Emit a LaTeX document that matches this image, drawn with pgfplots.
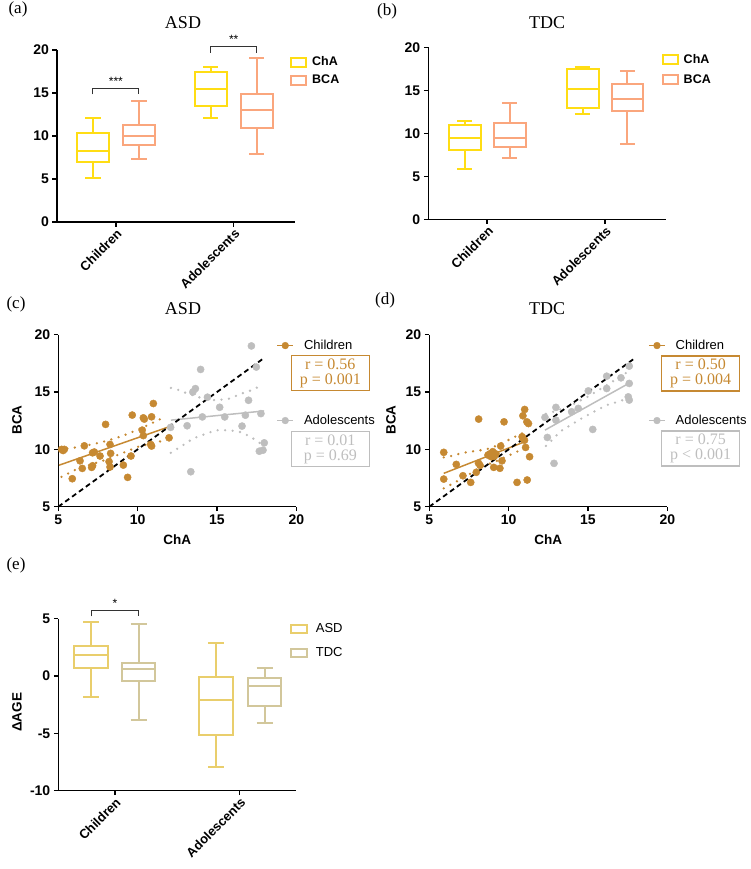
\documentclass[border=0pt]{standalone}
\usepackage{fontspec}
\setmainfont{Liberation Serif}
\setsansfont{Liberation Sans}
\usepackage{pgfplots}
\pgfplotsset{compat=1.18}
\usepgfplotslibrary{statistics}

\definecolor{cha}{RGB}{255,221,20}
\definecolor{bca}{RGB}{250,166,125}
\definecolor{chO}{RGB}{198,137,50}
\definecolor{adG}{RGB}{190,190,190}
\definecolor{asdE}{RGB}{233,206,108}
\definecolor{tdcE}{RGB}{210,199,155}

\pgfplotsset{
  gp/.style={
    scale only axis, width=238pt, height=172pt,
    axis x line*=bottom, axis y line*=left,
    axis line style={line width=1.5pt},
    every tick/.style={black, line width=1.5pt},
    tick align=outside, major tick length=4.5pt,
    ticklabel style={font=\fontsize{14}{14}\selectfont\sffamily\bfseries},
    label style={font=\fontsize{13.5}{14}\selectfont\sffamily\bfseries},
    clip=false,
  },
  boxax/.style={gp, xmin=0.5, xmax=2.52, xtick={1,2}, xticklabels={Children,Adolescents},
    xticklabel style={rotate=45, anchor=north east, inner sep=1pt, font=\fontsize{13}{13}\selectfont\sffamily\bfseries},
    boxplot/draw direction=y,
    legend cell align=left,
    legend style={draw=none, fill=none, inner sep=0pt, row sep=7pt, column sep=5pt,
      nodes={inner sep=0pt, text height=9pt, text depth=2pt}},
  },
  scax/.style={gp, xmin=5, xmax=20, ymin=5, ymax=20, xtick={5,10,15,20}, xticklabels={5,10,15,20},
    ytick={5,10,15,20}, yticklabels={5,10,15,20}, xlabel={ChA}, ylabel={BCA},
    xlabel style={at={(axis description cs:0.5,-0.194)}, anchor=center},
    legend cell align=left,
    legend style={draw=none, fill=none, inner sep=0pt, row sep=64pt, column sep=10pt,
      nodes={inner sep=0pt, text height=9pt, text depth=2pt},
      font=\fontsize{13}{13}\selectfont\sffamily},
  },
  bx/.style args={#1/#2/#3/#4/#5/#6}{solid, line width=2pt,
    boxplot/draw direction=y,
    boxplot prepared={lower whisker=#1, lower quartile=#2, median=#3,
      upper quartile=#4, upper whisker=#5, draw position=#6,
      box extend=0.27, whisker extend=0.13}},
  boxleg/.style={legend image code/.code={\draw[#1, line width=2pt] (0pt,-4.5pt) rectangle (15pt,4.5pt);}},
  boxlegE/.style={legend image code/.code={\draw[#1, line width=2pt] (0pt,-4pt) rectangle (16pt,4pt);}},
  dotleg/.style={legend image code/.code={\draw[#1, line width=1.5pt] (0pt,0pt) -- (16pt,0pt); \fill[#1] (8pt,0pt) circle (3.4pt);}},
  pts/.style={only marks, mark=*, mark size=3.6pt, mark options={draw=#1, fill=#1}},
  reg/.style={#1, line width=1.5pt, solid},
  ci/.style={#1, line width=2.6pt, line cap=round, dash pattern=on 0pt off 7.5pt},
  idl/.style={black, line width=1.8pt, dash pattern=on 5pt off 3.5pt},
}
\tikzset{rp/.style={draw=#1, text=#1, line width=1.2pt, minimum width=78pt, minimum height=35pt,
  inner sep=1pt, align=center, font=\fontsize{16}{15}\selectfont}}

\begin{document}
\begin{tikzpicture}
\path[use as bounding box] (0pt,0pt) rectangle (750pt,-869pt);

% titles and panel labels
\node[font=\fontsize{18}{18}\selectfont] at (183pt,-23pt) {ASD};
\node[font=\fontsize{18}{18}\selectfont] at (547pt,-23pt) {TDC};
\node[font=\fontsize{18}{18}\selectfont] at (183pt,-309pt) {ASD};
\node[font=\fontsize{18}{18}\selectfont] at (547pt,-309pt) {TDC};
\node[font=\fontsize{17}{17}\selectfont] at (18pt,-9pt) {(a)};
\node[font=\fontsize{17}{17}\selectfont] at (387pt,-11pt) {(b)};
\node[font=\fontsize{17}{17}\selectfont] at (16pt,-304pt) {(c)};
\node[font=\fontsize{17}{17}\selectfont] at (385pt,-300pt) {(d)};
\node[font=\fontsize{17}{17}\selectfont] at (16pt,-565pt) {(e)};

% ---------------- (a)
\begin{axis}[boxax, at={(57pt,-222pt)}, anchor=south west,
  ymin=0, ymax=20, ytick={0,5,10,15,20}, yticklabels={0,5,10,15,20},
  legend style={at={(axis description cs:0.979,0.962)}, anchor=north west,
    font=\fontsize{12.5}{13}\selectfont\sffamily\bfseries}]
\addlegendimage{boxleg=cha}\addlegendentry{ChA}
\addlegendimage{boxleg=bca}\addlegendentry{BCA}
\addplot[draw=cha, bx={5.17/7.0/8.27/10.4/12.04/0.805}] coordinates {};
\addplot[draw=bca, bx={7.38/8.93/9.98/11.26/14.06/1.195}] coordinates {};
\addplot[draw=cha, bx={12.1/13.5/15.42/17.48/18.06/1.805}] coordinates {};
\addplot[draw=bca, bx={7.96/10.95/13.0/14.83/19.03/2.195}] coordinates {};
\draw[line width=0.9pt, black!80] (axis cs:0.805,14.85) -- (axis cs:0.805,15.55) -- (axis cs:1.195,15.55) -- (axis cs:1.195,14.85);
\node[font=\fontsize{12}{12}\selectfont\sffamily] at (axis cs:1,16.35) {***};
\draw[line width=0.9pt, black!80] (axis cs:1.805,19.7) -- (axis cs:1.805,20.4) -- (axis cs:2.195,20.4) -- (axis cs:2.195,19.7);
\node[font=\fontsize{12}{12}\selectfont\sffamily] at (axis cs:2,21.2) {**};
\end{axis}

% ---------------- (b)
\begin{axis}[boxax, at={(428.3pt,-219.3pt)}, anchor=south west,
  ymin=0, ymax=20, ytick={0,5,10,15,20}, yticklabels={0,5,10,15,20},
  legend style={at={(axis description cs:0.980,0.961)}, anchor=north west, row sep=9pt,
    font=\fontsize{12.5}{13}\selectfont\sffamily\bfseries}]
\addlegendimage{boxleg=cha}\addlegendentry{ChA}
\addlegendimage{boxleg=bca}\addlegendentry{BCA}
\addplot[draw=cha, bx={5.83/8.07/9.5/11.0/11.39/0.81}] coordinates {};
\addplot[draw=bca, bx={7.07/8.46/9.5/11.16/13.47/1.19}] coordinates {};
\addplot[draw=cha, bx={12.24/12.93/15.13/17.45/17.72/1.81}] coordinates {};
\addplot[draw=bca, bx={8.73/12.59/13.98/15.68/17.22/2.19}] coordinates {};
\end{axis}

% ---------------- (c)
\begin{axis}[scax, at={(58.3pt,-506.7pt)}, anchor=south west,
  ylabel style={at={(axis description cs:-0.174,0.504)}, anchor=center},
  legend style={at={(axis description cs:0.916,0.970)}, anchor=north west}]
\addlegendimage{dotleg=chO}\addlegendentry{Children}
\addlegendimage{dotleg=adG}\addlegendentry{Adolescents}
\addplot[pts=chO] table[row sep=\\] {
x y\\
5.21 10.00\\ 5.38 10.00\\ 5.30 9.90\\ 5.88 7.44\\ 6.37 9.00\\ 6.51 8.34\\ 6.64 10.31\\
7.10 8.43\\ 7.16 8.57\\ 7.16 9.70\\ 7.27 9.77\\ 7.63 9.42\\ 7.98 12.18\\ 8.26 10.43\\
8.30 9.65\\ 8.20 8.93\\ 8.26 8.46\\ 9.10 8.63\\ 9.37 7.56\\ 9.58 9.42\\ 9.66 12.99\\
10.29 11.68\\ 10.36 12.75\\ 10.42 12.64\\ 10.36 11.20\\ 10.82 10.43\\ 10.88 10.29\\
10.88 12.84\\ 10.99 14.00\\ 11.98 11.01\\
};
\addplot[pts=adG] table[row sep=\\] {
x y\\
12.08 11.92\\ 13.12 12.06\\ 13.35 8.05\\ 13.48 15.00\\ 13.64 15.30\\ 13.97 16.97\\
14.08 12.83\\ 14.40 14.55\\ 15.17 13.67\\ 15.49 12.83\\ 16.58 12.03\\ 16.79 12.98\\
16.99 14.28\\ 17.17 19.02\\ 17.48 17.18\\ 17.77 13.12\\ 17.67 9.84\\ 17.90 9.93\\ 17.98 10.57\\
};
\addplot[reg=chO] coordinates {(5.05,8.62) (11.98,11.97)};
\addplot[ci=chO] coordinates {(5.1,10.0) (6,10.15) (7,10.4) (8,10.72) (9,11.15) (10,11.7) (11,12.35) (11.8,12.9)};
\addplot[ci=chO] coordinates {(5.2,7.6) (6.05,8.2) (7,8.65) (7.94,9.07) (8.99,9.65) (10.04,10.23) (10.88,10.52) (11.6,10.75)};
\addplot[reg=adG] coordinates {(12.1,12.55) (17.97,13.35)};
\addplot[ci=adG] coordinates {(12.1,15.36) (12.66,15.15) (13.14,14.86) (13.8,14.57) (14.44,14.34) (14.96,14.28) (15.8,14.43) (16.54,14.86) (17.27,15.2) (17.8,15.6)};
\addplot[ci=adG] coordinates {(12.09,9.7) (12.87,10.37) (13.5,10.95) (14.33,11.38) (14.96,11.67) (15.8,11.67) (16.43,11.53) (17.06,11.15) (17.59,10.66) (17.95,10.3)};
\addplot[idl] coordinates {(5,5) (18,18)};
\node[rp=chO] at (axis description cs:1.143,0.778) {r = 0.56\\p = 0.001};
\node[rp=adG] at (axis description cs:1.143,0.334) {r = 0.01\\p = 0.69};
\end{axis}

% ---------------- (d)
\begin{axis}[scax, at={(429.3pt,-506.7pt)}, anchor=south west,
  ylabel style={at={(axis description cs:-0.161,0.504)}, anchor=center},
  legend style={at={(axis description cs:0.919,0.970)}, anchor=north west}]
\addlegendimage{dotleg=chO}\addlegendentry{Children}
\addlegendimage{dotleg=adG}\addlegendentry{Adolescents}
\addplot[pts=chO] table[row sep=\\] {
x y\\
5.91 9.74\\ 5.91 7.41\\ 6.70 8.69\\ 7.12 7.70\\ 7.61 7.12\\ 7.96 8.00\\ 8.11 12.64\\
8.10 8.80\\ 8.20 8.60\\ 8.70 9.50\\ 8.80 9.60\\ 8.90 9.36\\ 9.00 9.80\\ 9.10 9.40\\
9.20 9.60\\ 8.95 9.65\\ 9.50 10.29\\ 9.58 9.00\\ 9.45 8.35\\ 9.06 8.43\\ 9.71 12.40\\
10.53 7.12\\ 10.90 10.96\\ 11.00 10.80\\ 10.85 11.10\\ 11.01 13.48\\ 10.90 12.93\\
11.15 12.40\\ 11.25 12.25\\ 11.07 10.17\\ 11.32 9.36\\ 11.17 7.33\\
};
\addplot[pts=adG] table[row sep=\\] {
x y\\
12.29 12.79\\ 12.98 13.66\\ 12.98 12.55\\ 12.44 11.04\\ 12.86 8.78\\ 13.97 13.28\\
14.39 13.57\\ 15.30 11.74\\ 15.02 15.10\\ 16.18 16.38\\ 16.18 15.31\\ 17.08 16.24\\
17.60 17.26\\ 17.60 15.75\\ 17.54 14.58\\ 17.60 14.30\\
};
\addplot[reg=chO] coordinates {(5.91,7.91) (11.01,10.66)};
\addplot[ci=chO] coordinates {(5.91,9.3) (6.39,9.42) (7.12,9.7) (7.86,9.85) (8.59,10.0) (9.2,10.3) (9.85,10.72) (10.48,11.15) (11.0,11.5)};
\addplot[ci=chO] coordinates {(5.91,6.6) (6.7,7.18) (7.44,7.76) (8.28,8.48) (9.1,8.9) (10.07,9.5) (11.0,10.1)};
\addplot[reg=adG] coordinates {(12.29,11.68) (17.63,15.8)};
\addplot[ci=adG] coordinates {(12.35,13.1) (13,13.35) (14,13.9) (15,14.6) (16,15.45) (17,16.3) (17.6,16.85)};
\addplot[ci=adG] coordinates {(12.35,10.3) (12.8,10.9) (13.24,11.55) (14,12.2) (14.6,12.7) (15.4,13.3) (16.18,13.86) (17,14.2) (17.6,14.5)};
\addplot[idl] coordinates {(5,5) (18,18)};
\node[rp=chO] at (axis description cs:1.140,0.774) {r = 0.50\\p = 0.004};
\node[rp=adG] at (axis description cs:1.140,0.338) {r = 0.75\\p < 0.001};
\end{axis}

% ---------------- (e)
\begin{axis}[boxax, at={(58.3pt,-790.7pt)}, anchor=south west,
  xmin=0.546, xmax=2.454,
  ymin=-10, ymax=5, ytick={-10,-5,0,5}, yticklabels={-10,-5,0,5},
  ylabel={ΔAGE}, ylabel style={at={(axis description cs:-0.174,0.455)}, anchor=center},
  legend style={at={(axis description cs:0.972,0.973)}, anchor=north west, row sep=12.5pt, column sep=8pt,
    font=\fontsize{13}{13}\selectfont\sffamily}]
\addlegendimage{boxlegE=asdE}\addlegendentry{ASD}
\addlegendimage{boxlegE=tdcE}\addlegendentry{TDC}
\addplot[draw=asdE, bx={-1.85/0.69/1.82/2.6/4.68/0.81}] coordinates {};
\addplot[draw=tdcE, bx={-3.87/-0.4/0.58/1.16/4.54/1.19}] coordinates {};
\addplot[draw=asdE, bx={-7.95/-5.1/-2.05/-0.06/2.92/1.81}] coordinates {};
\addplot[draw=tdcE, bx={-4.1/-2.62/-0.87/-0.17/0.7/2.2}] coordinates {};
\draw[line width=0.9pt, black!80] (axis cs:0.81,5.2) -- (axis cs:0.81,5.72) -- (axis cs:1.19,5.72) -- (axis cs:1.19,5.2);
\node[font=\fontsize{12}{12}\selectfont\sffamily] at (axis cs:1,6.3) {*};
\end{axis}
\end{tikzpicture}
\end{document}
